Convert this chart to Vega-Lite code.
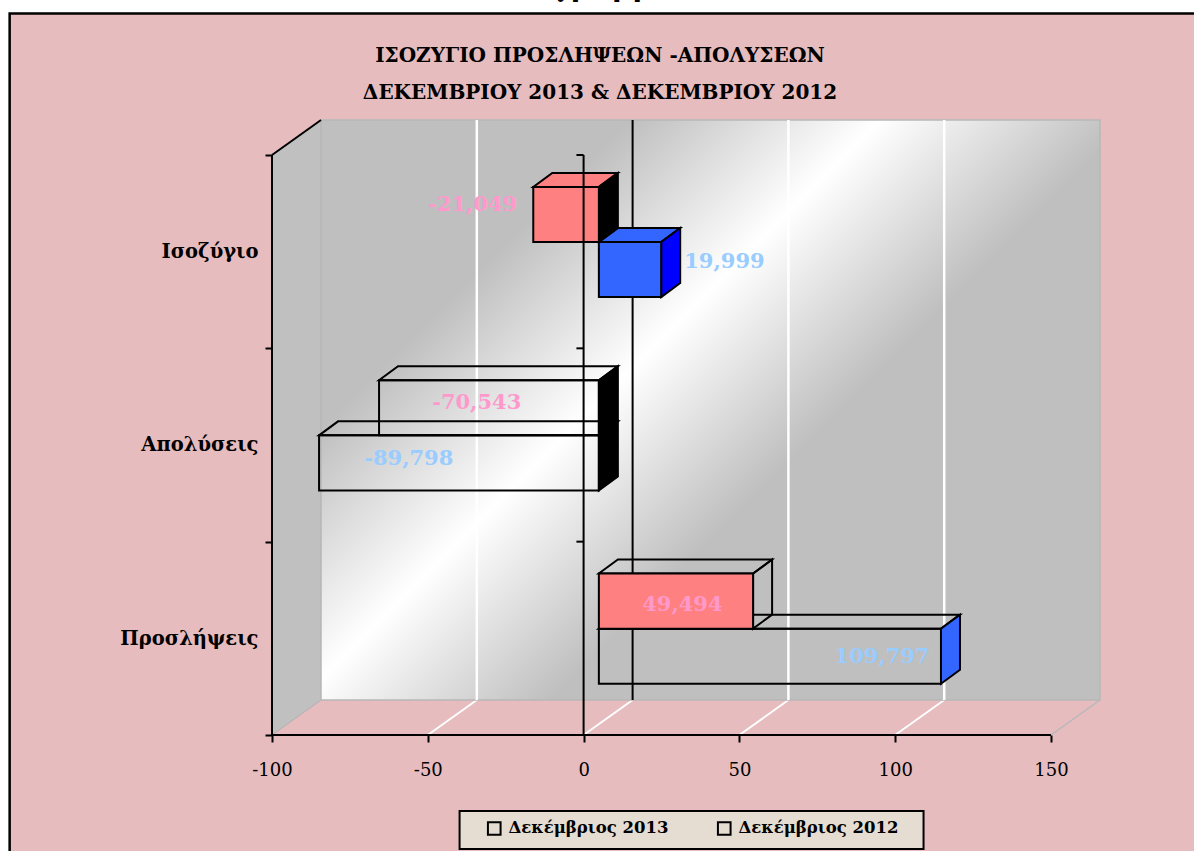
{
"$schema":"https://vega.github.io/schema/vega-lite/v6.json",
"width":828,"height":615,
"autosize":"none",
"padding":{"left":272,"top":120,"right":94,"bottom":116},
"background":"white",
"title":{"text":["ΙΣΟΖΥΓΙΟ ΠΡΟΣΛΗΨΕΩΝ -ΑΠΟΛΥΣΕΩΝ","ΔΕΚΕΜΒΡΙΟΥ 2013 & ΔΕΚΕΜΒΡΙΟΥ 2012"],"font":"DejaVu Serif","fontSize":20,"fontWeight":"bold","color":"black","lineHeight":37,"anchor":"middle","frame":"group","dx":-86,"offset":-129,"zindex":1},
"config":{"view":{"stroke":null}},
"datasets":{"bars":[
{"category":"Προσλήψεις","series":"Δεκέμβριος 2012","value":109797},
{"category":"Απολύσεις","series":"Δεκέμβριος 2012","value":-89798},
{"category":"Ισοζύγιο","series":"Δεκέμβριος 2012","value":19999},
{"category":"Προσλήψεις","series":"Δεκέμβριος 2013","value":49494},
{"category":"Απολύσεις","series":"Δεκέμβριος 2013","value":-70543},
{"category":"Ισοζύγιο","series":"Δεκέμβριος 2013","value":-21049}
]},
"layer":[
{"data":{"values":[{"a":-184.2,"b":199.5,"c":3.732,"d":-0.647}]},"mark":{"type":"rect","fill":"#e6bcbe","stroke":"black","strokeWidth":2.5},
 "encoding":{
  "x":{"field":"a","type":"quantitative","title":null,"scale":{"domain":[-100,165.73],"nice":false,"zero":false},
   "axis":{"values":[-100,-50,0,50,100,150],"domain":false,"grid":false,"ticks":true,"tickSize":7,"tickWidth":2,"tickColor":"black","labelExpr":"replace(datum.label,'−','-')","labelFont":"DejaVu Serif","labelFontSize":18,"labelColor":"black","labelPadding":19,"labelFlush":false,"labelOverlap":false,"zindex":1,"title":null}},
  "x2":{"field":"b"},
  "y":{"field":"c","type":"quantitative","title":null,"scale":{"domain":[0,3.181],"nice":false,"zero":false},
   "axis":{"values":[0,0.5,1,1.5,2,2.5,3],"domain":false,"grid":false,"tickSize":7,"tickWidth":2,"tickColor":"black",
    "tickOpacity":{"condition":{"test":"datum.value%1!==0","value":0},"value":1},
    "labelExpr":"datum.value===0.5?'Προσλήψεις':datum.value===1.5?'Απολύσεις':datum.value===2.5?'Ισοζύγιο':''",
    "labelFont":"DejaVu Serif","labelFontSize":19.5,"labelFontWeight":"bold","labelColor":"black","labelPadding":7,"labelOverlap":false,"labelFlush":false,"zindex":1,"title":null}},
  "y2":{"field":"d"}}},
{"data":{"values":[{"x":-100,"a":0,"b":3},{"x":-84.27,"a":0.181,"b":3.181}]},"mark":{"type":"area","fill":"#c0c0c0","stroke":"#b0b0b0","strokeWidth":1,"orient":"vertical"},
 "encoding":{"x":{"field":"x","type":"quantitative","title":null},"y":{"field":"a","type":"quantitative","title":null,"stack":null},"y2":{"field":"b"}}},
{"data":{"values":[{"a":-50},{"a":0},{"a":50},{"a":100}]},"transform":[{"calculate":"datum.a+15.73","as":"b"},{"calculate":"0","as":"y0"},{"calculate":"0.181","as":"y1"}],"mark":{"type":"rule","color":"white","strokeWidth":2},
 "encoding":{"x":{"field":"a","type":"quantitative","title":null},"x2":{"field":"b"},"y":{"field":"y0","type":"quantitative","title":null},"y2":{"field":"y1"}}},
{"data":{"values":[{"a":150,"b":165.73,"y0":0,"y1":0.181}]},"mark":{"type":"rule","color":"#b8b8b8","strokeWidth":1.5},
 "encoding":{"x":{"field":"a","type":"quantitative","title":null},"x2":{"field":"b"},"y":{"field":"y0","type":"quantitative","title":null},"y2":{"field":"y1"}}},
{"data":{"values":[{"a":-84.27,"b":165.73,"c":0.181,"d":3.181}]},"mark":{"type":"rect","stroke":"#b8b8b8","strokeWidth":1.5,
  "fill":{"gradient":"linear","x1":0.2552,"y1":0.19,"x2":0.668,"y2":0.4975,"stops":[{"offset":0,"color":"#bfbfbf"},{"offset":0.5,"color":"#ffffff"},{"offset":1,"color":"#bfbfbf"}]}},
 "encoding":{"x":{"field":"a","type":"quantitative","title":null},"x2":{"field":"b"},"y":{"field":"c","type":"quantitative","title":null},"y2":{"field":"d"}}},
{"data":{"values":[{"x":-34.27,"c":0.181,"d":3.181},{"x":65.73,"c":0.181,"d":3.181},{"x":115.73,"c":0.181,"d":3.181}]},"mark":{"type":"rule","color":"white","strokeWidth":2.5},
 "encoding":{"x":{"field":"x","type":"quantitative","title":null},"y":{"field":"c","type":"quantitative","title":null},"y2":{"field":"d"}}},
{"data":{"values":[{"x":15.73,"c":0.181,"d":3.181}]},"mark":{"type":"rule","color":"black","strokeWidth":2},
 "encoding":{"x":{"field":"x","type":"quantitative","title":null},"y":{"field":"c","type":"quantitative","title":null},"y2":{"field":"d"}}},
{"data":{"name":"bars"},
 "transform":[
  {"calculate":"datum.value/1000+4.9","as":"end"},
  {"calculate":"indexof(['Προσλήψεις','Απολύσεις','Ισοζύγιο'],datum.category)+(datum.series==='Δεκέμβριος 2012'?0.265:0.55)","as":"lo"},
  {"calculate":"[0,1]","as":"t"},{"flatten":["t"]},
  {"calculate":"4.9+datum.t*6.1","as":"xa"},{"calculate":"datum.end+datum.t*6.1","as":"xb"},{"calculate":"datum.lo+0.285+datum.t*0.0724","as":"yt"}],
 "mark":{"type":"area","orient":"horizontal","stroke":"black","strokeWidth":2},
 "encoding":{
  "x":{"field":"xa","type":"quantitative","title":null,"stack":null},"x2":{"field":"xb"},
  "y":{"field":"yt","type":"quantitative","title":null},
  "detail":{"field":"value","type":"nominal"},
  "fill":{"condition":[{"test":"datum.value===-21049","value":"#ff8080"},{"test":"datum.value===19999","value":"#3366ff"}],"value":"transparent"}}},
{"data":{"name":"bars"},
 "transform":[
  {"calculate":"datum.value/1000+4.9","as":"end"},
  {"calculate":"indexof(['Προσλήψεις','Απολύσεις','Ισοζύγιο'],datum.category)+(datum.series==='Δεκέμβριος 2012'?0.265:0.55)","as":"lo"},
  {"calculate":"[0,1]","as":"t"},{"flatten":["t"]},
  {"calculate":"(datum.value>0?datum.end:4.9)+datum.t*6.1","as":"xs"},{"calculate":"datum.lo+datum.t*0.0724","as":"ya"},{"calculate":"datum.lo+0.285+datum.t*0.0724","as":"yb"}],
 "mark":{"type":"area","orient":"vertical","stroke":"black","strokeWidth":2},
 "encoding":{
  "x":{"field":"xs","type":"quantitative","title":null},
  "y":{"field":"ya","type":"quantitative","title":null,"stack":null},"y2":{"field":"yb"},
  "detail":{"field":"value","type":"nominal"},
  "fill":{"condition":[{"test":"datum.value<0","value":"black"},{"test":"datum.value===19999","value":"#0000ff"},{"test":"datum.value===109797","value":"#3366ff"}],"value":"transparent"}}},
{"data":{"name":"bars"},
 "transform":[
  {"calculate":"datum.value/1000+4.9","as":"end"},{"calculate":"4.9","as":"start"},
  {"calculate":"indexof(['Προσλήψεις','Απολύσεις','Ισοζύγιο'],datum.category)+(datum.series==='Δεκέμβριος 2012'?0.265:0.55)","as":"lo"},
  {"calculate":"datum.lo+0.285","as":"hi"}],
 "mark":{"type":"rect","strokeWidth":2},
 "encoding":{
  "x":{"field":"start","type":"quantitative","title":null},"x2":{"field":"end"},
  "y":{"field":"lo","type":"quantitative","title":null},"y2":{"field":"hi"},
  "stroke":{"field":"series","type":"nominal","scale":{"domain":["Δεκέμβριος 2013","Δεκέμβριος 2012"],"range":["black","black"]},
   "legend":{"title":null,"orient":"none","legendX":214,"legendY":700,"direction":"horizontal","columns":2,"columnPadding":44,"padding":0,"symbolType":"square","symbolSize":160,"symbolStrokeWidth":2,"symbolFillColor":"transparent","symbolStrokeColor":"black","labelFont":"DejaVu Serif","labelFontSize":16.5,"labelFontWeight":"bold","labelColor":"black","labelOffset":6,"labelLimit":300}},
  "fill":{"condition":[{"test":"datum.value===-21049||datum.value===49494","value":"#ff8080"},{"test":"datum.value===19999","value":"#3366ff"}],"value":"transparent"}}},
{"data":{"values":[
  {"a":-100,"b":150,"c":0,"d":0},{"a":-100,"b":-100,"c":0,"d":3},{"a":0,"b":0,"c":0,"d":3},
  {"a":-100,"b":-84.27,"c":3,"d":3.181},{"a":-2.3,"b":0,"c":1,"d":1},{"a":-2.3,"b":0,"c":2,"d":2},{"a":-2.3,"b":0,"c":3,"d":3}]},
 "mark":{"type":"rule","color":"black","strokeWidth":2},
 "encoding":{"x":{"field":"a","type":"quantitative","title":null},"x2":{"field":"b"},"y":{"field":"c","type":"quantitative","title":null},"y2":{"field":"d"}}},
{"data":{"name":"bars"},
 "transform":[
  {"calculate":"({'-21049':-35.6,'19999':45.2,'-70543':-34.3,'-89798':-56.1,'49494':31.7,'109797':95.8})[datum.value]","as":"lx"},
  {"calculate":"({'-21049':2.741,'19999':2.447,'-70543':1.717,'-89798':1.428,'49494':0.672,'109797':0.403})[datum.value]","as":"ly"},
  {"calculate":"replace(format(datum.value,','),'−','-')","as":"label"}],
 "mark":{"type":"text","font":"DejaVu Serif","fontSize":21,"fontWeight":"bold","align":"center","baseline":"middle"},
 "encoding":{
  "x":{"field":"lx","type":"quantitative","title":null},"y":{"field":"ly","type":"quantitative","title":null},
  "text":{"field":"label"},
  "color":{"condition":{"test":"datum.series==='Δεκέμβριος 2013'","value":"#ff99cc"},"value":"#99ccff"}}},
{"data":{"values":[{"a":-39.8,"b":109.1,"c":-0.393,"d":-0.59}]},"mark":{"type":"rect","fill":"#e5dcd2","stroke":"black","strokeWidth":2},
 "encoding":{"x":{"field":"a","type":"quantitative","title":null},"x2":{"field":"b"},"y":{"field":"c","type":"quantitative","title":null},"y2":{"field":"d"}}},
{"data":{"values":[{"t":"Διάγραμμα","a":0.45,"c":3.822}]},"mark":{"type":"text","font":"DejaVu Serif","fontSize":28,"fontWeight":"bold","align":"center","baseline":"alphabetic","color":"black"},
 "encoding":{"x":{"field":"a","type":"quantitative","title":null},"y":{"field":"c","type":"quantitative","title":null},"text":{"field":"t"}}}
]
}
